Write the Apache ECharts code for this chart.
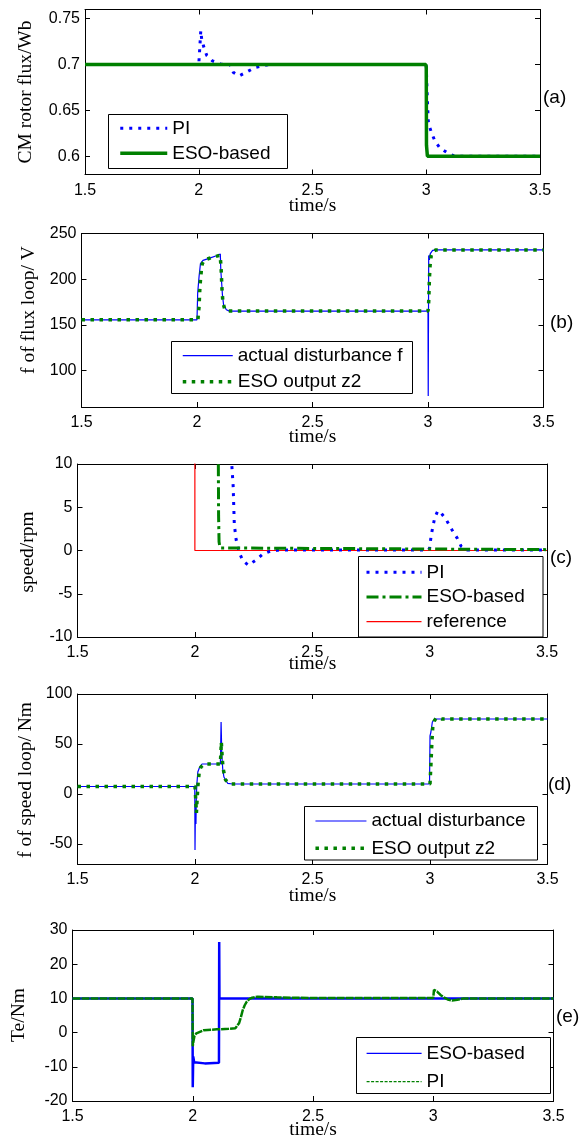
<!DOCTYPE html>
<html>
<head>
<meta charset="utf-8">
<script src="https://cdn.jsdelivr.net/npm/echarts@6/dist/echarts.min.js"></script>
<style>
html,body{margin:0;padding:0;background:#fff;}
#chart{width:587px;height:1138px;}
</style>
</head>
<body>
<div id="chart"></div>
<script>
// ---------- data ----------
const xTicks = [1.5, 2, 2.5, 3, 3.5];
const aTicks = [0.6, 0.65, 0.7, 0.75];
const bTicks = [100, 150, 200, 250];
const cTicks = [-10, -5, 0, 5, 10];
const dTicks = [-50, 0, 50, 100];
const eTicks = [-20, -10, 0, 10, 20, 30];

// (a) CM rotor flux
const aPI = [[1.5,0.7],[2.0,0.7],[2.004,0.716],[2.009,0.737],[2.013,0.7275],[2.023,0.7185],[2.035,0.71],[2.06,0.704],[2.096,0.7005],[2.137,0.7],[2.145,0.696],[2.152,0.6914],[2.178,0.6876],[2.215,0.6924],[2.247,0.6967],[2.284,0.6988],[2.31,0.7],[3.0,0.7],[3.003,0.675],[3.006,0.655],[3.009,0.638],[3.013,0.633],[3.024,0.625],[3.038,0.6166],[3.06,0.609],[3.094,0.6035],[3.12,0.6005],[3.15,0.6],[3.5,0.6]];
const aESO = [[1.5,0.7],[2.998,0.7],[3.0,0.697],[3.001,0.612],[3.004,0.612],[3.005,0.6],[3.5,0.6]];

// (b) f of flux loop
const bActual = [[1.5,155.5],[2.0,155.5],[2.003,185],[2.009,203],[2.015,217],[2.026,220.5],[2.055,223],[2.084,225.6],[2.101,227.4],[2.103,210],[2.107,195],[2.11,183],[2.115,172],[2.127,166.5],[2.14,165],[3.0,165],[3.001,72],[3.002,72],[3.003,226],[3.006,221],[3.01,228],[3.02,231.5],[3.035,232],[3.5,232]];
const bESO = [[1.5,155.5],[2.004,155.5],[2.007,165],[2.009,170],[2.012,188],[2.015,199],[2.019,210],[2.023,217],[2.033,221],[2.06,223.5],[2.09,225.5],[2.1,226],[2.104,214],[2.108,190],[2.112,175],[2.12,167],[2.135,165],[3.0,165],[3.003,175],[3.006,200],[3.009,215],[3.014,226],[3.022,230.5],[3.035,232],[3.5,232]];

// (c) speed
const cRef = [[1.5,15],[2.0,15],[2.0,0],[3.5,0]];
const cPI = [[1.5,15],[2.15,15],[2.157,10],[2.163,7.5],[2.168,3],[2.176,1.2],[2.19,-0.3],[2.205,-1.2],[2.228,-1.7],[2.26,-1.1],[2.29,-0.4],[2.32,-0.1],[2.36,0.05],[2.995,0.05],[3.0,0.3],[3.006,1.6],[3.014,2.8],[3.022,3.8],[3.035,4.6],[3.05,4.3],[3.072,3.5],[3.095,2.4],[3.118,1.4],[3.134,0.5],[3.16,0.05],[3.5,0.05]];
const cESO = [[1.5,15],[2.099,15],[2.1,10],[2.101,4],[2.103,1],[2.107,0.3],[2.115,0.1],[3.5,0.1]];

// (d) f of speed loop
const dActual = [[1.5,7.5],[1.999,7.5],[2.0,-56],[2.002,-10],[2.004,-30],[2.006,0],[2.008,10],[2.012,22],[2.02,27],[2.03,30],[2.108,30],[2.111,72],[2.114,40],[2.118,25],[2.123,17],[2.139,10.7],[2.16,10],[2.998,10],[3.0,58],[3.004,62],[3.01,72],[3.02,75],[3.5,75]];
const dESO = [[1.5,7.5],[2.0,7.5],[2.003,-5],[2.006,-19],[2.009,-5],[2.013,10],[2.018,22],[2.025,27],[2.04,30],[2.108,30],[2.112,52],[2.116,35],[2.12,25],[2.13,14],[2.15,10],[3.0,10],[3.004,30],[3.008,52],[3.012,68],[3.018,73],[3.025,75.5],[3.035,76],[3.05,75],[3.5,75]];

// (e) Te
const eESO = [[1.5,10],[1.999,10],[2.0,-16],[2.002,-7],[2.006,-8.7],[2.05,-9],[2.109,-8.8],[2.11,26.5],[2.111,10],[3.5,10]];
const ePI = [[1.5,10],[1.999,10],[2.0,-4],[2.003,-2.5],[2.007,-1.0],[2.015,-0.2],[2.022,0.2],[2.046,0.7],[2.1,0.95],[2.15,1.1],[2.177,1.25],[2.185,1.8],[2.193,2.8],[2.2,4.5],[2.208,6.6],[2.216,8.0],[2.224,9.0],[2.235,9.8],[2.247,10.2],[2.27,10.5],[2.35,10.3],[2.5,10.1],[3.0,10.1],[3.003,12.5],[3.01,12.4],[3.016,12],[3.03,11],[3.044,10.3],[3.06,9.7],[3.078,9.4],[3.1,9.6],[3.127,10],[3.5,10]];

// ---------- layout ----------
const SANS = 'Liberation Sans';
const SERIF = 'Liberation Serif';
const grids = [
  {left:85,  top:9.5,  width:455, height:165},
  {left:81.5,top:233.5,width:462, height:173.5},
  {left:77.5,top:464,  width:469.5,height:173},
  {left:77.5,top:694,  width:470, height:170},
  {left:72.5,top:930,  width:481, height:171}
];
const yRanges = [
  {min:0.58, max:0.76, ticks:aTicks},
  {min:60, max:250, ticks:bTicks},
  {min:-10, max:10, ticks:cTicks},
  {min:-70, max:100, ticks:dTicks},
  {min:-20, max:30, ticks:eTicks}
];

const xAxis = [], yAxis = [];
grids.forEach((g, i) => {
  const line = {show:true, onZero:false, lineStyle:{color:'#000', width:1}};
  const tick = {show:true, inside:true, length:5, lineStyle:{color:'#000', width:1}};
  xAxis.push({gridIndex:i, type:'value', min:1.5, max:3.5, interval:0.5, position:'bottom',
    axisLine:line, axisTick:tick, splitLine:{show:false},
    axisLabel:{color:'#000', fontSize:16, fontFamily:SANS, margin:8}});
  xAxis.push({gridIndex:i, type:'value', min:1.5, max:3.5, interval:0.5, position:'top',
    axisLine:line, axisTick:tick, splitLine:{show:false}, axisLabel:{show:false}});
  const r = yRanges[i];
  yAxis.push({gridIndex:i, type:'value', min:r.min, max:r.max, position:'left',
    axisLine:line, axisTick:Object.assign({customValues:r.ticks}, tick), splitLine:{show:false},
    axisLabel:{customValues:r.ticks, color:'#000', fontSize:16, fontFamily:SANS, margin:5}});
  yAxis.push({gridIndex:i, type:'value', min:r.min, max:r.max, position:'right',
    axisLine:line, axisTick:Object.assign({customValues:r.ticks}, tick), splitLine:{show:false},
    axisLabel:{show:false}});
});

function S(name, gi, data, ls, z) {
  return {name:name, type:'line', xAxisIndex:2*gi, yAxisIndex:2*gi, data:data,
    symbol:'none', showSymbol:false, clip:true, animation:false, z:z || 2,
    emphasis:{disabled:true}, lineStyle:ls, itemStyle:{color:ls.color, opacity:0}};
}
const BLUE = '#0000ff', GREEN = '#008000', RED = '#ff0000';
const dotB = {color:BLUE, width:3, type:[3,6], cap:'butt'};
const dotG = {color:GREEN, width:3.5, type:[3.5,5.5], cap:'butt'};

const series = [
  S('a:PI', 0, aPI, dotB, 2),
  S('a:ESO-based', 0, aESO, {color:GREEN, width:3.5}, 3),
  S('b:actual disturbance f', 1, bActual, {color:BLUE, width:1.2}, 2),
  S('b:ESO output z2', 1, bESO, dotG, 3),
  S('c:reference', 2, cRef, {color:RED, width:1.2}, 2),
  S('c:PI', 2, cPI, dotB, 3),
  S('c:ESO-based', 2, cESO, {color:GREEN, width:3, type:[12,4,3,4], cap:'butt'}, 3),
  S('d:actual disturbance', 3, dActual, {color:BLUE, width:1.2}, 2),
  S('d:ESO output z2', 3, dESO, dotG, 3),
  S('e:ESO-based', 4, eESO, {color:BLUE, width:2.5}, 2),
  S('e:PI', 4, ePI, {color:GREEN, width:2.5, type:[8,1]}, 3)
];

function L(left, top, iw, gap, items) {
  return {orient:'vertical', left:left, top:top, itemWidth:iw, itemHeight:14, itemGap:gap,
    padding:0, selectedMode:false, z:10, data:items,
    itemStyle:{opacity:0, borderWidth:0},
    formatter: n => n.slice(2),
    textStyle:{fontFamily:SANS, fontSize:19, color:'#000', lineHeight:20}};
}
const legend = [
  L(118.5, 118.3, 47, 5, [{name:'a:PI', lineStyle:{width:3}}, {name:'a:ESO-based', lineStyle:{width:3.5}}]),
  L(181, 345.7, 50, 6, [{name:'b:actual disturbance f', lineStyle:{width:1.2}}, {name:'b:ESO output z2', lineStyle:{width:3.5}}]),
  L(365, 562.3, 55, 4.7, [{name:'c:PI', lineStyle:{width:3}}, {name:'c:ESO-based', lineStyle:{width:3}}, {name:'c:reference', lineStyle:{width:1.2}}]),
  L(313.7, 811, 51, 7.3, [{name:'d:actual disturbance', lineStyle:{width:1.2}}, {name:'d:ESO output z2', lineStyle:{width:3.5}}]),
  L(366, 1043.3, 55, 8.4, [{name:'e:ESO-based', lineStyle:{width:1.2}}, {name:'e:PI', lineStyle:{width:1.2, type:[3,1.5]}}])
];

function box(x, y, w, h) {
  return {type:'rect', z:5, shape:{x:x, y:y, width:w, height:h}, style:{fill:'#fff', stroke:'#000', lineWidth:1}};
}
function vtext(t, x, y) {
  return {type:'text', z:6, x:x, y:y, rotation:Math.PI/2,
    style:{text:t, font:'19.5px "' + SERIF + '"', fill:'#000', align:'center', verticalAlign:'middle', textAlign:'center', textVerticalAlign:'middle'}};
}
function htext(t, x, y, font, align) {
  return {type:'text', z:6, x:x, y:y,
    style:{text:t, font:font, fill:'#000', align:align, verticalAlign:'middle', textAlign:align, textVerticalAlign:'middle'}};
}
const serifF = '19.5px "' + SERIF + '"';
const sansF = '19px "' + SANS + '"';
const graphic = [
  box(108.5, 114.5, 179, 54),
  box(171.5, 341.5, 241, 52),
  box(358.5, 556.5, 184.5, 80.5),
  box(304.5, 806.5, 233, 53.5),
  box(356.5, 1037.5, 194, 56),
  vtext('CM rotor flux/Wb', 26, 92),
  vtext('f of flux loop/ V', 29, 310),
  vtext('speed/rpm', 28, 552),
  vtext('f of speed loop/ Nm', 26, 780),
  vtext('Te/Nm', 19, 1015),
  htext('time/s', 312.5, 206, serifF, 'center'),
  htext('time/s', 312.5, 437, serifF, 'center'),
  htext('time/s', 312.5, 664, serifF, 'center'),
  htext('time/s', 312.5, 896, serifF, 'center'),
  htext('time/s', 313, 1130, serifF, 'center'),
  htext('(a)', 543, 98, sansF, 'left'),
  htext('(b)', 550, 323, sansF, 'left'),
  htext('(c)', 550, 558, sansF, 'left'),
  htext('(d)', 548, 785, sansF, 'left'),
  htext('(e)', 556, 1017, sansF, 'left')
];

const chart = echarts.init(document.getElementById('chart'), null, {renderer:'canvas'});
chart.setOption({
  animation:false,
  backgroundColor:'#fff',
  grid:grids,
  xAxis:xAxis,
  yAxis:yAxis,
  series:series,
  legend:legend,
  graphic:{elements:graphic}
});
</script>
</body>
</html>
